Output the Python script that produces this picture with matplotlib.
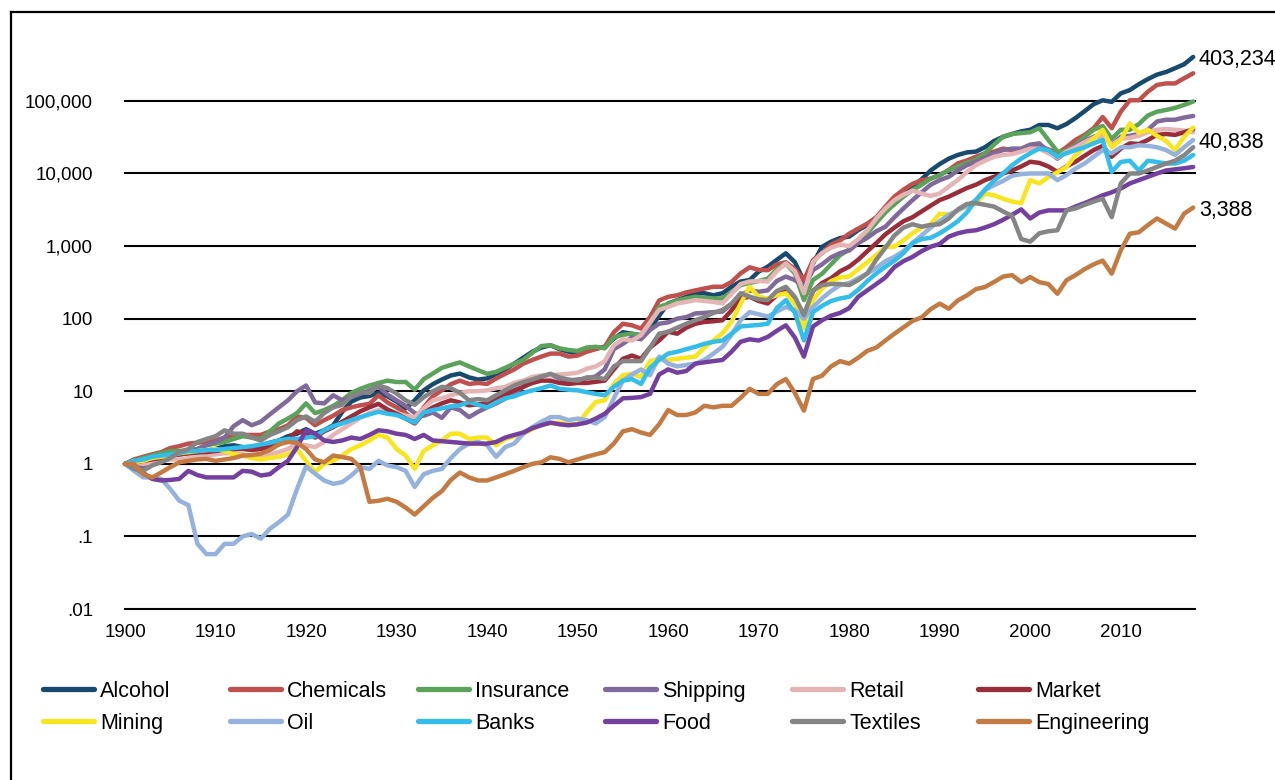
import matplotlib
matplotlib.use("Agg")
import matplotlib.pyplot as plt
from matplotlib.lines import Line2D
from matplotlib.ticker import NullLocator

plt.rcParams['font.family'] = ['Liberation Sans', 'DejaVu Sans']

years = list(range(1900, 2019))

# Cumulative value of 1 invested at the start of 1900, by industry (log scale)
alcohol = [1.0, 1.08, 1.1, 1.15, 1.2, 1.3, 1.35, 1.4, 1.4, 1.5,
           1.6, 1.75, 1.8, 1.7, 1.65, 1.75, 1.95, 2.1, 2.4, 2.6,
           3.0, 2.6, 2.9, 3.4, 5.2, 7.2, 8.2, 8.6, 9.5, 8.5,
           7.2, 5.8, 7.5, 10.3, 12.5, 14.5, 16.5, 17.5, 15.5, 14.5,
           15, 17, 20, 24, 29, 35, 40, 43, 38, 35,
           34, 37, 39, 41, 53, 65, 62, 58, 72, 110,
           162, 180, 200, 224, 224, 210, 224, 275, 325, 340,
           445, 520, 645, 795, 600, 330, 575, 975, 1150, 1290,
           1350, 1660, 1950, 2400, 3100, 3800, 5000, 6600, 8300, 11000,
           13500, 16000, 18000, 19500, 20000, 23000, 28000, 32000, 35000, 38000,
           40000, 46600, 46600, 42000, 48000, 58000, 72000, 90000, 102000, 97000,
           127000, 141000, 170000, 200000, 230000, 250000, 282000, 320000, 403234]

chemicals = [1.0, 1.15, 1.25, 1.35, 1.45, 1.65, 1.75, 1.9, 1.95, 2.0,
             2.1, 2.3, 2.4, 2.5, 2.5, 2.5, 2.8, 3.0, 3.4, 4.5,
             4.3, 3.4, 4.0, 4.6, 5.5, 6.0, 6.4, 6.7, 8.8, 7.0,
             6.0, 5.0, 3.9, 6.0, 8.5, 10.3, 12.5, 14, 12.6, 13,
             12.6, 15, 17.4, 20, 24, 27, 30, 33, 33, 30,
             31, 35, 38, 41, 65, 85, 81, 73, 105, 178,
             200, 210, 230, 245, 260, 275, 275, 320, 420, 510,
             470, 465, 560, 600, 480, 340, 640, 800, 1050, 1200,
             1480, 1740, 2040, 2500, 3500, 4800, 6000, 7200, 8100, 8500,
             9500, 11200, 13800, 15100, 17000, 19000, 20000, 22000, 21000, 21000,
             23000, 23500, 21500, 19000, 23000, 29000, 34000, 42000, 60000, 42000,
             71000, 102000, 102000, 134000, 166000, 174000, 174000, 205000, 240000]

insurance = [1.0, 1.1, 1.2, 1.3, 1.4, 1.5, 1.5, 1.55, 1.6, 1.8,
             1.9, 2.0, 2.2, 2.4, 2.3, 2.2, 2.8, 3.6, 4.2, 5.0,
             6.8, 5.0, 5.5, 6.3, 7.5, 9.5, 10.8, 12, 13, 14,
             13.4, 13.4, 10.5, 14.7, 17.5, 21, 23, 25, 22, 19.5,
             17.4, 18.5, 21, 24, 27, 34, 42, 43, 39, 37,
             36, 40, 41, 39, 55, 60, 62, 60, 85, 145,
             160, 178, 190, 200, 195, 190, 190, 230, 290, 310,
             330, 355, 480, 575, 420, 180, 340, 415, 560, 750,
             900, 1150, 1500, 2100, 2900, 3800, 4800, 5900, 7000, 8500,
             9500, 11000, 12500, 14000, 15500, 19000, 25000, 32000, 35000, 36000,
             37000, 42000, 29000, 20000, 20500, 25000, 32000, 40000, 45000, 30000,
             40000, 40000, 48000, 63000, 71000, 75000, 80000, 88000, 98000]

shipping = [1.0, 0.95, 0.9, 1.0, 1.1, 1.25, 1.35, 1.45, 1.6, 1.8,
            2.0, 2.3, 3.3, 4.0, 3.4, 3.8, 4.8, 6.0, 7.5, 10,
            12, 7.0, 6.8, 8.8, 7.5, 8.3, 9.2, 10.3, 11.5, 9.0,
            7.5, 6.3, 5.0, 4.6, 5.1, 4.3, 6.0, 5.5, 4.4, 5.2,
            6.0, 6.8, 7.9, 9.5, 11.5, 14, 16, 17, 15, 14,
            14.5, 15, 16, 20, 38, 45, 55, 52, 70, 85,
            89, 100, 105, 118, 120, 123, 125, 160, 210, 245,
            235, 245, 330, 380, 340, 275, 465, 560, 700, 800,
            870, 1100, 1300, 1600, 1850, 2500, 3300, 4300, 5500, 7000,
            8100, 9000, 11000, 13000, 14500, 16500, 19000, 21000, 22000, 22000,
            25000, 26000, 20000, 16000, 20000, 24000, 28000, 32000, 35000, 25000,
            32000, 33000, 35000, 40000, 52000, 55000, 55000, 59000, 62000]

retail = [1.0, 1.05, 1.0, 1.05, 1.1, 1.15, 1.15, 1.2, 1.25, 1.3,
          1.35, 1.4, 1.4, 1.35, 1.3, 1.3, 1.35, 1.45, 1.6, 1.9,
          1.8, 1.7, 2.0, 2.5, 3.0, 3.6, 4.3, 5.0, 5.5, 5.2,
          5.0, 4.6, 4.4, 5.8, 7.5, 8.0, 8.8, 9.5, 10, 10,
          10.3, 11, 11.5, 13, 14, 15.8, 16.5, 16.6, 17, 17.4,
          18, 20.4, 22, 26, 43, 52, 50, 59, 89, 132,
          145, 162, 170, 180, 175, 170, 162, 220, 300, 325,
          330, 325, 450, 575, 450, 224, 600, 800, 950, 1050,
          1000, 1250, 1650, 2400, 3300, 4300, 5100, 5800, 5300, 4900,
          5300, 6600, 8100, 10500, 13000, 15000, 17000, 18000, 18500, 20000,
          22000, 22000, 19000, 16500, 20000, 23000, 27000, 31000, 33000, 25000,
          30000, 31000, 33000, 37000, 40000, 41000, 40000, 39000, 37000]

market = [1.0, 1.05, 1.1, 1.15, 1.2, 1.3, 1.35, 1.4, 1.45, 1.45,
          1.5, 1.55, 1.6, 1.6, 1.55, 1.6, 1.7, 1.85, 2.2, 2.8,
          2.6, 2.3, 2.8, 3.2, 3.8, 4.5, 5.3, 6.0, 6.7, 5.6,
          4.9, 4.2, 3.6, 5.0, 6.0, 6.8, 7.5, 7.0, 6.4, 6.6,
          6.8, 8.0, 9.0, 10.3, 11.5, 13, 14, 14, 13, 12.6,
          13, 13, 13.5, 14, 20, 28, 31, 28, 40, 50,
          66, 62, 75, 85, 90, 92, 95, 130, 190, 200,
          175, 162, 210, 245, 190, 110, 240, 310, 360, 450,
          520, 650, 850, 1100, 1450, 1800, 2200, 2500, 3000, 3600,
          4300, 4800, 5500, 6300, 7000, 8100, 9000, 10000, 11000, 12500,
          14500, 14000, 12500, 10500, 12500, 14500, 17500, 21000, 24000, 17000,
          22000, 26000, 25500, 29000, 34000, 35000, 34000, 37000, 40838]

mining = [1.0, 1.05, 1.1, 1.2, 1.25, 1.3, 1.4, 1.45, 1.5, 1.55,
          1.6, 1.5, 1.35, 1.3, 1.2, 1.15, 1.2, 1.25, 1.35, 1.6,
          1.1, 0.77, 1.0, 1.1, 1.3, 1.6, 1.8, 2.1, 2.5, 2.3,
          1.6, 1.3, 0.85, 1.5, 1.8, 2.1, 2.6, 2.6, 2.2, 2.3,
          2.3, 1.8, 2.2, 2.4, 2.6, 3.0, 3.5, 3.6, 3.7, 3.5,
          3.5, 5.1, 7.1, 7.5, 12.6, 16.6, 17.4, 15.8, 26, 28,
          27, 28, 29, 30, 40, 50, 63, 90, 160, 275,
          200, 190, 210, 224, 160, 73, 180, 260, 330, 370,
          380, 480, 600, 750, 975, 980, 1200, 1500, 1800, 2000,
          2800, 2700, 3100, 3500, 3900, 5300, 5000, 4500, 4100, 3900,
          8100, 7300, 8900, 10400, 12300, 17800, 23000, 30000, 40000, 23000,
          29000, 49000, 36000, 40000, 33000, 28000, 21000, 32000, 43000]

oil = [1.0, 0.8, 0.65, 0.65, 0.62, 0.45, 0.31, 0.27, 0.079, 0.057,
       0.057, 0.079, 0.079, 0.1, 0.108, 0.093, 0.127, 0.157, 0.2, 0.45,
       0.92, 0.73, 0.59, 0.53, 0.56, 0.69, 0.9, 0.85, 1.1, 0.95,
       0.9, 0.8, 0.48, 0.72, 0.8, 0.85, 1.2, 1.6, 1.9, 2.0,
       1.8, 1.25, 1.7, 1.9, 2.6, 3.2, 3.8, 4.4, 4.4, 4.0,
       4.2, 4.0, 3.6, 4.4, 8, 14, 17, 20, 16.6, 30,
       24, 22, 23, 24, 27, 33, 41, 60, 95, 123,
       115, 107, 125, 145, 130, 100, 145, 190, 240, 290,
       310, 360, 420, 500, 620, 710, 850, 1100, 1400, 1800,
       2200, 2700, 3100, 3600, 4300, 5900, 6900, 7900, 9300, 9800,
       10000, 10000, 10000, 8100, 9500, 11700, 13700, 17000, 21000, 19000,
       23000, 23000, 24500, 24000, 23000, 21000, 18000, 23000, 29000]

banks = [1.0, 1.1, 1.15, 1.25, 1.3, 1.35, 1.4, 1.5, 1.5, 1.55,
         1.55, 1.6, 1.65, 1.7, 1.75, 1.85, 1.95, 2.1, 2.2, 2.2,
         2.3, 2.4, 2.9, 3.3, 3.6, 4.0, 4.4, 4.8, 5.2, 4.9,
         4.7, 4.2, 3.7, 5.1, 5.5, 5.8, 6.2, 6.4, 7.1, 6.5,
         6.0, 7.0, 8.0, 8.5, 9.5, 10.3, 11, 12, 10.8, 10.5,
         10.3, 9.7, 9.2, 8.8, 11.5, 14, 14.7, 12.6, 21, 27,
         33, 35, 38, 41, 45, 48, 50, 62, 78, 80,
         82, 85, 140, 180, 120, 50, 123, 150, 175, 190,
         200, 250, 330, 420, 520, 630, 800, 1100, 1250, 1300,
         1500, 1800, 2200, 2900, 4300, 6000, 8000, 10000, 13000, 16000,
         19000, 22000, 21000, 17000, 19000, 21000, 23000, 26000, 29000, 10500,
         14400, 15000, 11000, 15000, 14400, 13700, 13700, 15000, 18000]

food = [1.0, 0.9, 0.75, 0.62, 0.59, 0.6, 0.62, 0.8, 0.7, 0.65,
        0.65, 0.65, 0.65, 0.8, 0.78, 0.69, 0.72, 0.9, 1.1, 1.7,
        2.9, 2.6, 2.1, 2.0, 2.1, 2.3, 2.2, 2.5, 2.9, 2.8,
        2.6, 2.5, 2.2, 2.5, 2.1, 2.05, 2.0, 1.95, 1.9, 1.9,
        1.9, 2.0, 2.3, 2.5, 2.7, 3.1, 3.4, 3.7, 3.5, 3.4,
        3.5, 3.7, 4.2, 4.9, 6.3, 8.0, 8.1, 8.3, 9.2, 17,
        20, 18, 19, 24, 25, 26, 27, 35, 48, 52,
        50, 56, 68, 81, 55, 30, 78, 95, 110, 120,
        140, 200, 245, 300, 370, 515, 620, 710, 850, 980,
        1070, 1350, 1500, 1600, 1650, 1800, 2000, 2300, 2700, 3200,
        2400, 2900, 3100, 3100, 3100, 3500, 3900, 4400, 5000, 5500,
        6200, 7300, 8100, 9000, 10000, 11000, 11400, 11800, 12300]

textiles = [1.0, 0.85, 0.8, 0.95, 1.05, 1.2, 1.45, 1.6, 2.0, 2.2,
            2.4, 2.9, 2.6, 2.6, 2.3, 2.1, 2.5, 2.8, 3.2, 4.0,
            4.5, 3.8, 5.0, 6.0, 6.5, 8.5, 9.7, 9.5, 12, 11,
            9.3, 7.5, 6.5, 8.3, 10, 11.5, 11, 9.5, 7.5, 7.8,
            7.5, 8.8, 10.3, 12, 13.4, 14.5, 16, 17.4, 15.5, 14.5,
            14, 15.5, 15.5, 14.7, 22, 26, 26, 26, 40, 62,
            66, 75, 85, 95, 105, 120, 132, 160, 224, 200,
            185, 180, 240, 275, 200, 112, 245, 290, 300, 300,
            290, 340, 420, 650, 950, 1400, 1800, 2000, 1850, 1950,
            2000, 2400, 3200, 3800, 3900, 3700, 3500, 3000, 2600, 1250,
            1150, 1500, 1600, 1650, 3100, 3300, 3700, 4100, 4500, 2500,
            7300, 10000, 10000, 11000, 12300, 13700, 15000, 17800, 23000]

engineering = [1.0, 1.0, 0.72, 0.65, 0.76, 0.9, 1.05, 1.1, 1.15, 1.17,
               1.1, 1.15, 1.2, 1.3, 1.32, 1.38, 1.55, 1.85, 2.0, 1.95,
               1.6, 1.15, 1.05, 1.3, 1.24, 1.17, 0.9, 0.3, 0.31, 0.33,
               0.3, 0.25, 0.2, 0.26, 0.34, 0.42, 0.6, 0.76, 0.65, 0.59,
               0.59, 0.65, 0.72, 0.8, 0.9, 1.0, 1.05, 1.23, 1.17, 1.05,
               1.15, 1.25, 1.35, 1.45, 1.9, 2.8, 3.0, 2.7, 2.5, 3.5,
               5.5, 4.7, 4.7, 5.1, 6.3, 6.0, 6.3, 6.3, 8.1, 10.8,
               9.2, 9.2, 12.5, 14.7, 9.5, 5.4, 14.7, 16.4, 22, 26,
               24, 29, 36, 40, 50, 62, 76, 93, 104, 135,
               161, 137, 178, 209, 255, 273, 320, 380, 398, 318,
               374, 318, 300, 220, 338, 398, 480, 560, 630, 417,
               875, 1480, 1550, 1950, 2400, 2040, 1740, 2800, 3388]

names = ["Alcohol", "Chemicals", "Insurance", "Shipping", "Retail", "Market",
         "Mining", "Oil", "Banks", "Food", "Textiles", "Engineering"]
colors = ["#18496f", "#c0504d", "#5ba35a", "#80699b", "#e5b5b6", "#9b2d3a",
          "#f7e51d", "#95b2dc", "#33bdea", "#7440a0", "#858585", "#c47b43"]
data = [alcohol, chemicals, insurance, shipping, retail, market,
        mining, oil, banks, food, textiles, engineering]

ytick_vals = [0.01, 0.1, 1, 10, 100, 1000, 10000, 100000]
ytick_labels = [".01", ".1", "1", "10", "100", "1,000", "10,000", "100,000"]
xtick_vals = list(range(1900, 2011, 10))

W, H = 1275, 780
fig = plt.figure(figsize=(W / 100, H / 100), dpi=100)
ax = fig.add_axes([125 / W, 1 - 609 / H, (1195 - 125) / W, (609 - 45) / H])

ax.set_yscale("log")
ax.set_ylim(0.01, 10 ** 5.77)
ax.set_xlim(1900, 2018.2)
for sp in ax.spines.values():
    sp.set_visible(False)

for v in ytick_vals:
    ax.axhline(v, color="black", lw=1.5, zorder=1, clip_on=False)

ax.set_yticks(ytick_vals)
ax.set_yticklabels(ytick_labels)
ax.yaxis.set_minor_locator(NullLocator())
ax.set_xticks(xtick_vals)
ax.set_xticklabels([str(y) for y in xtick_vals])
ax.tick_params(axis="both", length=0, labelsize=13.5, colors="black")
ax.tick_params(axis="y", pad=23)
ax.tick_params(axis="x", pad=11)

for i, (vals, c) in enumerate(zip(data, colors)):
    ax.plot(years, vals, color=c, lw=3.2, solid_joinstyle="round",
            solid_capstyle="round", zorder=2 + i * 0.01, clip_on=False)

# Closing values of selected series
for vals, dy in [(alcohol, 0), (market, -8), (engineering, 0)]:
    ax.annotate(f"{vals[-1]:,}", xy=(years[-1], vals[-1]), xytext=(4, dy),
                textcoords="offset points", ha="left", va="center_baseline",
                fontsize=15.5, annotation_clip=False)

# Legend laid out in two rows of six
col_x = [43, 230, 418, 605, 792, 978]
row_y = [689, 721]
for k, (name, c) in enumerate(zip(names, colors)):
    r, ci = divmod(k, 6)
    x0 = col_x[ci]
    y0 = 1 - row_y[r] / H
    fig.add_artist(Line2D([x0 / W, (x0 + 51) / W], [y0, y0], color=c, lw=3.8,
                          solid_capstyle="round", transform=fig.transFigure))
    fig.text((x0 + 57) / W, y0, name, ha="left", va="center_baseline",
             fontsize=15.5)

# Outer frame (left and top edges)
fig.add_artist(Line2D([11 / W, 11 / W], [0, 1 - 12 / H], color="black", lw=1.6,
                      transform=fig.transFigure))
fig.add_artist(Line2D([11 / W, 1], [1 - 12 / H, 1 - 12 / H], color="black", lw=1.6,
                      transform=fig.transFigure))

fig.savefig("out.png", dpi=100, facecolor="white")
